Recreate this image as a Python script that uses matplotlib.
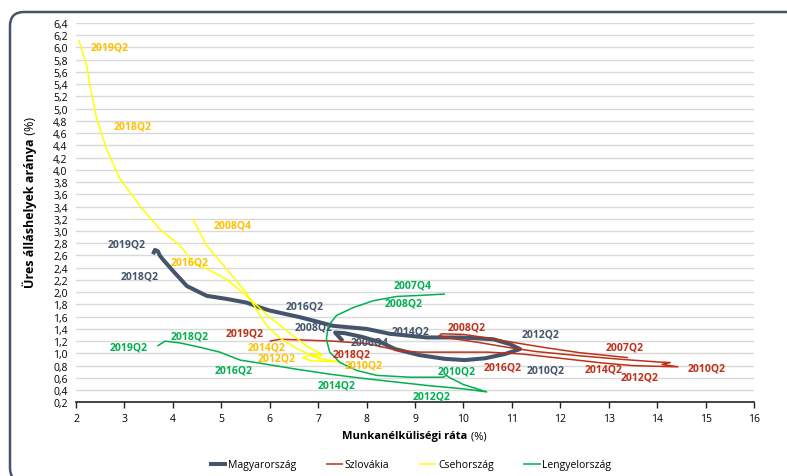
import numpy as np
import matplotlib
matplotlib.use("Agg")
import matplotlib.pyplot as plt
from matplotlib.patches import FancyBboxPatch
from matplotlib.transforms import IdentityTransform
from matplotlib.ticker import FuncFormatter

plt.rcParams['font.family'] = ['Open Sans', 'DejaVu Sans']

# Beveridge-görbék: munkanélküliségi ráta (x) és üres álláshelyek aránya (y), %
hu_x = [7.51, 7.35, 7.55, 7.90, 8.30, 8.59, 9.10, 9.62, 10.03, 10.45, 10.86, 11.17,
        10.96, 10.62, 9.93, 9.24, 8.48, 8.00, 7.31, 6.63, 6.00, 5.80, 5.52, 5.11,
        4.70, 4.29, 4.00, 3.80, 3.73, 3.69, 3.63, 3.59]
hu_y = [1.20, 1.34, 1.33, 1.27, 1.18, 1.07, 0.97, 0.91, 0.89, 0.92, 0.99, 1.07,
        1.15, 1.23, 1.26, 1.26, 1.32, 1.40, 1.45, 1.59, 1.70, 1.75, 1.83, 1.89,
        1.94, 2.10, 2.35, 2.53, 2.60, 2.67, 2.69, 2.62]

sk_x = [13.40, 12.41, 11.72, 11.02, 10.60, 10.00, 9.55, 9.50, 9.70, 10.30, 10.90,
        11.50, 12.40, 13.30, 14.00, 14.27, 14.10, 14.43, 13.90, 13.50, 12.90, 12.00,
        11.20, 10.50, 9.80, 9.10, 8.69, 8.30, 8.00, 7.31, 6.63, 6.21, 6.00]
sk_y = [0.93, 1.01, 1.09, 1.18, 1.24, 1.31, 1.32, 1.29, 1.25, 1.18, 1.10,
        1.03, 0.96, 0.90, 0.86, 0.85, 0.82, 0.78, 0.79, 0.80, 0.84, 0.92,
        0.99, 1.02, 1.02, 1.02, 1.04, 1.11, 1.16, 1.20, 1.22, 1.23, 1.20]

cz_x = [4.41, 4.52, 4.70, 5.11, 5.52, 5.94, 6.21, 6.56, 6.97, 7.20, 7.45, 6.85,
        6.68, 6.80, 7.08, 7.02, 6.85, 7.04, 6.76, 6.42, 6.00, 5.52, 5.11, 4.70,
        4.42, 4.15, 3.73, 3.32, 2.91, 2.63, 2.43, 2.29, 2.22, 2.06]
cz_y = [3.20, 3.03, 2.76, 2.38, 1.98, 1.45, 1.25, 1.08, 0.93, 0.89, 0.86, 0.88,
        0.93, 0.97, 0.98, 0.94, 0.95, 1.00, 1.12, 1.33, 1.59, 1.94, 2.21, 2.38,
        2.49, 2.76, 3.03, 3.41, 3.85, 4.34, 4.83, 5.37, 5.70, 6.12]

pl_x = [9.62, 9.17, 8.62, 8.14, 7.73, 7.38, 7.21, 7.17, 7.24, 7.45, 7.80, 8.21,
        8.90, 9.58, 9.65, 9.72, 9.85, 10.00, 10.48, 10.00, 9.31, 8.62, 7.93, 7.24,
        6.56, 5.87, 5.39, 4.97, 4.56, 4.15, 3.84, 3.68]
pl_y = [1.97, 1.95, 1.93, 1.86, 1.75, 1.62, 1.45, 1.23, 1.02, 0.85, 0.72, 0.64,
        0.61, 0.61, 0.64, 0.60, 0.55, 0.49, 0.37, 0.42, 0.47, 0.53, 0.59, 0.66,
        0.74, 0.83, 0.89, 1.02, 1.10, 1.17, 1.20, 1.12]

# negyedéves feliratok és helyük
hu_lbl = ['2019Q2', '2018Q2', '2016Q2', '2008Q2', '2014Q2', '2006Q4', '2012Q2', '2010Q2']
hu_lx = [3.05, 3.32, 6.73, 6.90, 8.90, 8.07, 11.60, 11.70]
hu_ly = [2.79, 2.27, 1.78, 1.43, 1.37, 1.18, 1.32, 0.73]

sk_lbl = ['2019Q2', '2018Q2', '2008Q2', '2016Q2', '2007Q2', '2014Q2', '2012Q2', '2010Q2']
sk_lx = [5.49, 7.69, 10.07, 10.82, 13.32, 12.89, 13.63, 15.02]
sk_ly = [1.33, 0.99, 1.43, 0.78, 1.11, 0.74, 0.62, 0.76]

cz_lbl = ['2019Q2', '2018Q2', '2008Q4', '2016Q2', '2014Q2', '2012Q2', '2010Q2']
cz_lx = [2.69, 3.17, 5.23, 4.35, 5.94, 6.14, 7.93]
cz_ly = [6.00, 4.72, 3.10, 2.50, 1.10, 0.92, 0.81]

pl_lbl = ['2007Q4', '2008Q2', '2018Q2', '2019Q2', '2016Q2', '2014Q2', '2010Q2', '2012Q2']
pl_lx = [8.95, 8.76, 4.35, 3.08, 5.25, 7.38, 9.86, 9.34]
pl_ly = [2.11, 1.82, 1.28, 1.10, 0.72, 0.49, 0.71, 0.31]

fig = plt.figure(figsize=(7.87, 4.77), dpi=100)
ax = fig.add_axes([76 / 787, 73.7 / 477, 678 / 787, 379.3 / 477])

series = [
    ('Magyarország', hu_x, hu_y, '#44546A', '#44546A', 2.9, hu_lbl, hu_lx, hu_ly),
    ('Szlovákia', sk_x, sk_y, '#BE3118', '#BE3118', 1.1, sk_lbl, sk_lx, sk_ly),
    ('Csehország', cz_x, cz_y, '#FFFF00', '#FFC000', 1.1, cz_lbl, cz_lx, cz_ly),
    ('Lengyelország', pl_x, pl_y, '#00B050', '#00B050', 1.1, pl_lbl, pl_lx, pl_ly),
]
for name, xs, ys, col, tcol, lw, lbl, lx, ly in series:
    ax.plot(xs, ys, color=col, lw=lw, label=name, solid_joinstyle='round',
            solid_capstyle='butt')
    for s, tx, ty in zip(lbl, lx, ly):
        ax.text(tx, ty, s, color=tcol, fontsize=7.5, fontweight='bold',
                ha='center', va='center')

ax.set_xlim(2, 16)
ax.set_ylim(0.2, 6.4)
ax.set_xticks(range(2, 17))
ax.set_yticks(np.round(np.arange(0.2, 6.41, 0.2), 1))
ax.yaxis.set_major_formatter(FuncFormatter(lambda v, p: f'{v:.1f}'.replace('.', ',')))
ax.yaxis.grid(True, color='#D9D9D9', lw=1.0)
ax.set_axisbelow(True)
for sp in ['top', 'right', 'left']:
    ax.spines[sp].set_visible(False)
ax.spines['bottom'].set_color('#222222')
ax.spines['bottom'].set_linewidth(1.2)
ax.tick_params(axis='x', direction='out', length=4, width=1, color='#222222',
               labelsize=7.5, pad=4)
ax.tick_params(axis='y', length=0, labelsize=7.5, pad=6)

# tengelyfeliratok: félkövér rész + normál "(%)"
xl = fig.text(405 / 787, 1 - 437 / 477, 'Munkanélküliségi ráta', fontsize=8,
              fontweight='bold', ha='center', va='center')
ax.annotate(' (%)', xy=(1, 0.5), xycoords=xl, fontsize=8, ha='left', va='center')
yl = fig.text(30 / 787, 1 - 213 / 477, 'Üres álláshelyek aránya', fontsize=9,
              fontweight='bold', rotation=90, ha='center', va='center')
ax.annotate(' (%)', xy=(0.5, 1), xycoords=yl, fontsize=9, rotation=90,
            ha='center', va='bottom')

fig.legend(loc='center', bbox_to_anchor=(410 / 787, 1 - 466 / 477), ncol=4,
           frameon=False, fontsize=7.5, handlelength=1.7, handletextpad=0.15,
           columnspacing=2.8)

# lekerekített keret
frame = FancyBboxPatch((10, -6), 800, 470, boxstyle='round,pad=0,rounding_size=14',
                       transform=IdentityTransform(), fill=False,
                       ec='#44546A', lw=1.8)
fig.patches.append(frame)

fig.savefig('out.png', dpi=100)
